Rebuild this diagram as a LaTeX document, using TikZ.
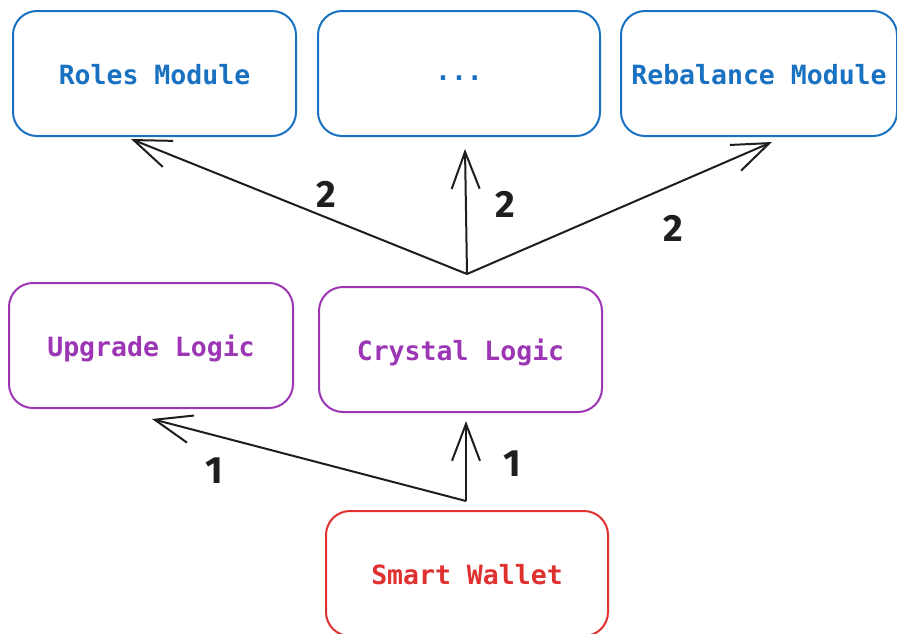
\documentclass[tikz,border=0pt]{standalone}
\usepackage{fontspec}
\setmonofont{DejaVu Sans Mono}
\newfontfamily\numfont{Fira Sans}
\usetikzlibrary{arrows.meta,calc}
\definecolor{cblue}{HTML}{1971C2}
\definecolor{cpurple}{HTML}{9C36B5}
\definecolor{cred}{HTML}{E03131}
\definecolor{cink}{HTML}{1E1E1E}
\newcommand{\boxtext}[2][-10.5pt]{\raisebox{#1}[0pt][0pt]{#2}}
\begin{document}
\begin{tikzpicture}[x=1pt,y=-1pt,
  box/.style={draw, line width=2pt, rounded corners=24pt, minimum width=#1, minimum height=125pt,
    inner sep=0pt, font=\ttfamily\bfseries\fontsize{26.5}{30}\selectfont},
  box/.default=283pt,
  conn/.style={draw=cink, line width=2pt, -{Straight Barb[length=37pt,width=28pt,line width=2pt]}},
  num/.style={text=cink, font=\numfont\bfseries\fontsize{38}{40}\selectfont, inner sep=0pt}]
\useasboundingbox (0,0) rectangle (897,633);
\fill[white] (0,0) rectangle (897,633);
% top row
\node[box, draw=cblue, text=cblue] (roles) at (154.5,73.5) {\boxtext{Roles Module}};
\node[box=282pt, draw=cblue, text=cblue] (dots) at (459,73.5) {\boxtext[-7pt]{...}};
\node[box=276pt, draw=cblue, text=cblue] (rebal) at (759,73.5) {\boxtext{Rebalance Module}};
% middle row
\node[box=284pt, draw=cpurple, text=cpurple] (upgrade) at (151,345.5) {\boxtext{Upgrade Logic}};
\node[box, draw=cpurple, text=cpurple] (crystal) at (460.5,349.5) {\boxtext{Crystal Logic}};
% bottom
\node[box=282pt, draw=cred, text=cred] (wallet) at (467,573.5) {\boxtext{Smart Wallet}};
% junction points
\coordinate (j2) at ($(crystal.north)+(6.5,-12)$);
\coordinate (j1) at ($(wallet.north)+(-1,-9)$);
% arrows from crystal logic
\draw[conn] (j2) -- ([shift={(-23.5,2)}]roles.south);
\draw[conn] (j2) -- ([shift={(6,12)}]dots.south);
\draw[conn] (j2) -- ([shift={(13,5)}]rebal.south);
% arrows from smart wallet
\draw[conn] (j1) -- ([shift={(1,10)}]upgrade.south);
\draw[conn] (j1) -- ([shift={(5.5,8)}]crystal.south);
% labels
\node[num] (l2a) at (326,194) {2};
\node[num] (l2b) at (505,204) {2};
\node[num] (l2c) at (673,228) {2};
\node[num] (l1a) at (214,471) {1};
\node[num] (l1b) at (512,464) {1};
\end{tikzpicture}
\end{document}
